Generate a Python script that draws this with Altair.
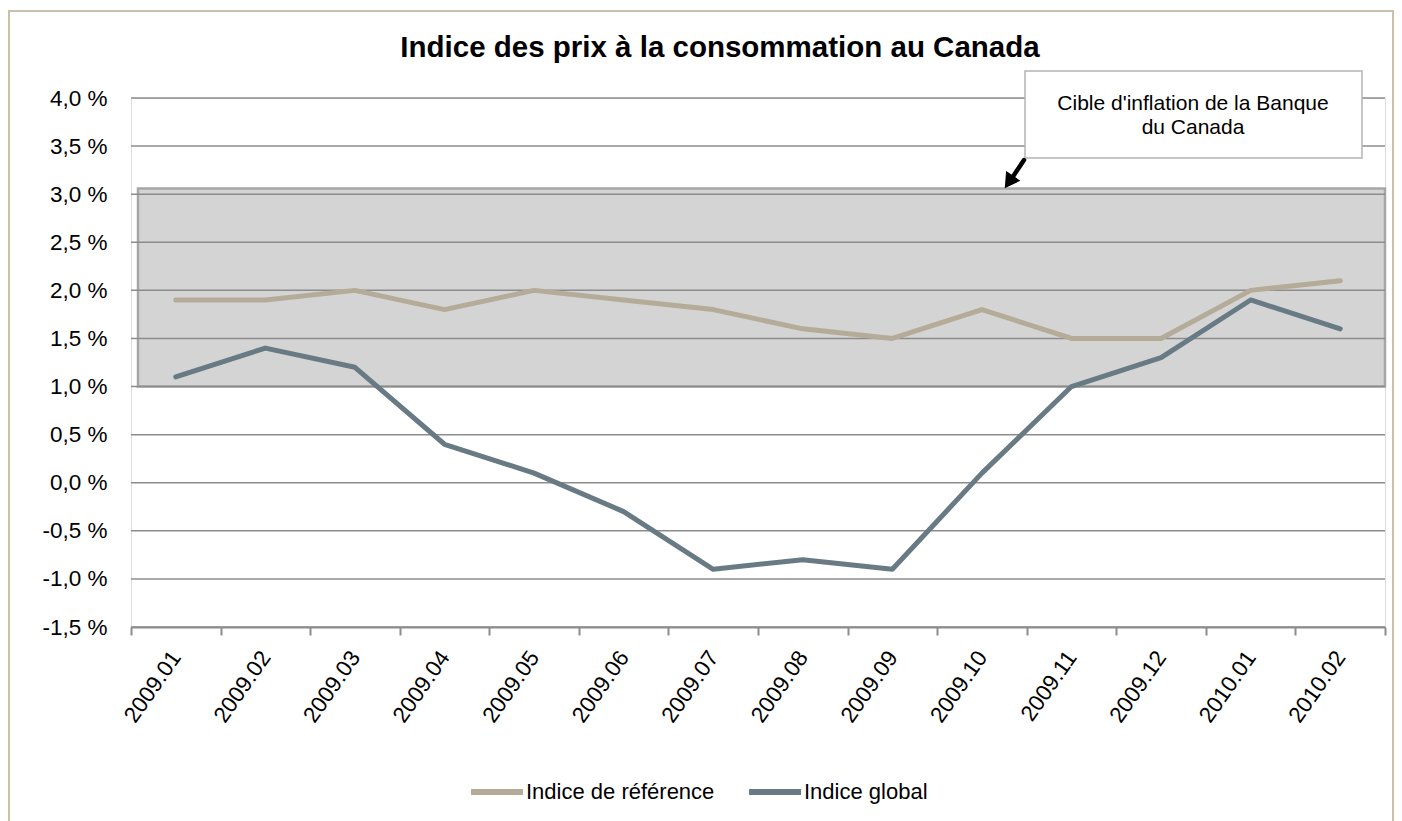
import altair as alt
import pandas as pd

months = ["2009.01", "2009.02", "2009.03", "2009.04", "2009.05", "2009.06", "2009.07",
          "2009.08", "2009.09", "2009.10", "2009.11", "2009.12", "2010.01", "2010.02"]
ref = [1.9, 1.9, 2.0, 1.8, 2.0, 1.9, 1.8, 1.6, 1.5, 1.8, 1.5, 1.5, 2.0, 2.1]
glob = [1.1, 1.4, 1.2, 0.4, 0.1, -0.3, -0.9, -0.8, -0.9, 0.1, 1.0, 1.3, 1.9, 1.6]
series = ["Indice de référence", "Indice global"]
colors = ["#b5ab99", "#687a83"]
band_lo, band_hi = 1.0, 3.06
y_ticks = [-1.5, -1.0, -0.5, 0.0, 0.5, 1.0, 1.5, 2.0, 2.5, 3.0, 3.5, 4.0]
title_text = "Indice des prix à la consommation au Canada"
note = ["Cible d'inflation de la Banque", "du Canada"]

FONT = "Liberation Sans"
W, H = 1254, 529

df = pd.DataFrame({
    "mois": months * 2,
    "valeur": ref + glob,
    "serie": [series[0]] * len(months) + [series[1]] * len(months),
})
grid_df = pd.DataFrame({"v": y_ticks})
band_df = pd.DataFrame({"lo": [band_lo], "hi": [band_hi]})

yscale = alt.Scale(domain=[-1.5, 4.0], nice=False, zero=False)
xscale = alt.Scale(type="band", domain=months, paddingInner=0, paddingOuter=0)

# outer frame
frame = alt.Chart(band_df).mark_rect(fill="white", fillOpacity=0, stroke="#c9c2a8", strokeWidth=2).encode(
    x=alt.value(-122), x2=alt.value(1262), y=alt.value(-87), y2=alt.value(740)
)

band = alt.Chart(band_df).mark_rect(fill="#d4d4d4", stroke="#a6a6a6", strokeWidth=2.5).encode(
    y=alt.Y("lo:Q", scale=yscale), y2="hi:Q", x=alt.value(7), x2=alt.value(W)
)

grid = alt.Chart(grid_df).mark_rule(color="#8c8c8c", strokeWidth=1.5).encode(
    y=alt.Y("v:Q", scale=yscale), x=alt.value(0), x2=alt.value(W)
)

lines = alt.Chart(df).mark_line(strokeWidth=5, strokeCap="round", strokeJoin="round").encode(
    x=alt.X("mois:N", scale=xscale, bandPosition=0.5, sort=months,
            axis=alt.Axis(title=None, labelAngle=-55, labelFontSize=22.5, labelColor="black",
                          labelFont=FONT, tickBand="extent", tickColor="#8c8c8c", tickSize=8,
                          tickWidth=2, domainColor="#8c8c8c", domainWidth=2, labelPadding=18,
                          grid=False, labelAlign="right", labelBaseline="middle")),
    y=alt.Y("valeur:Q", scale=yscale,
            axis=alt.Axis(title=None, values=y_ticks, grid=False, domain=False, ticks=False,
                          labelExpr="replace(replace(format(datum.value, '.1f'), '.', ','), '\u2212', '-') + ' %'",
                          labelFontSize=22.5, labelColor="black", labelFont=FONT, labelPadding=24)),
    color=alt.Color("serie:N", scale=alt.Scale(domain=series, range=colors),
                    legend=alt.Legend(orient="none", legendX=337, legendY=665, direction="horizontal",
                                      title=None, symbolType="stroke", symbolSize=2700,
                                      symbolStrokeWidth=6, labelFontSize=22, labelFont=FONT,
                                      labelColor="black", columnPadding=22, labelOffset=0,
                                      labelLimit=400)),
)

title = alt.Chart(band_df).mark_text(text=title_text, fontSize=29.5, fontWeight="bold", font=FONT,
                                     color="black", align="center", baseline="middle").encode(
    x=alt.value(589), y=alt.value(-50)
)

box = alt.Chart(band_df).mark_rect(fill="white", stroke="#b4b4b4", strokeWidth=1.5).encode(
    x=alt.value(894), x2=alt.value(1231), y=alt.value(-27), y2=alt.value(60)
)

box_text = alt.Chart(band_df).mark_text(text=note, fontSize=21, font=FONT, color="black",
                                        align="center", baseline="middle", lineHeight=24).encode(
    x=alt.value(1062), y=alt.value(6)
)

arrow = alt.Chart(band_df).mark_rule(color="black", strokeWidth=4.5, strokeCap="round").encode(
    x=alt.value(893), y=alt.value(62), x2=alt.value(879), y2=alt.value(83)
)
head = alt.Chart(band_df).mark_point(shape="triangle-up", filled=True, color="black", opacity=1,
                                     size=300, angle=214.6).encode(
    x=alt.value(878), y=alt.value(84)
)

chart = alt.layer(frame, band, grid, lines, title, box, box_text, arrow, head).properties(
    width=W, height=H,
    autosize=alt.AutoSizeParams(type="none"),
    padding={"left": 123, "top": 90, "right": 9, "bottom": 194},
    background="white",
).configure_view(fill="#f0f0f0", stroke=None).configure(font=FONT)

chart.save("out.html", embed_options={"renderer": "svg", "actions": False})
